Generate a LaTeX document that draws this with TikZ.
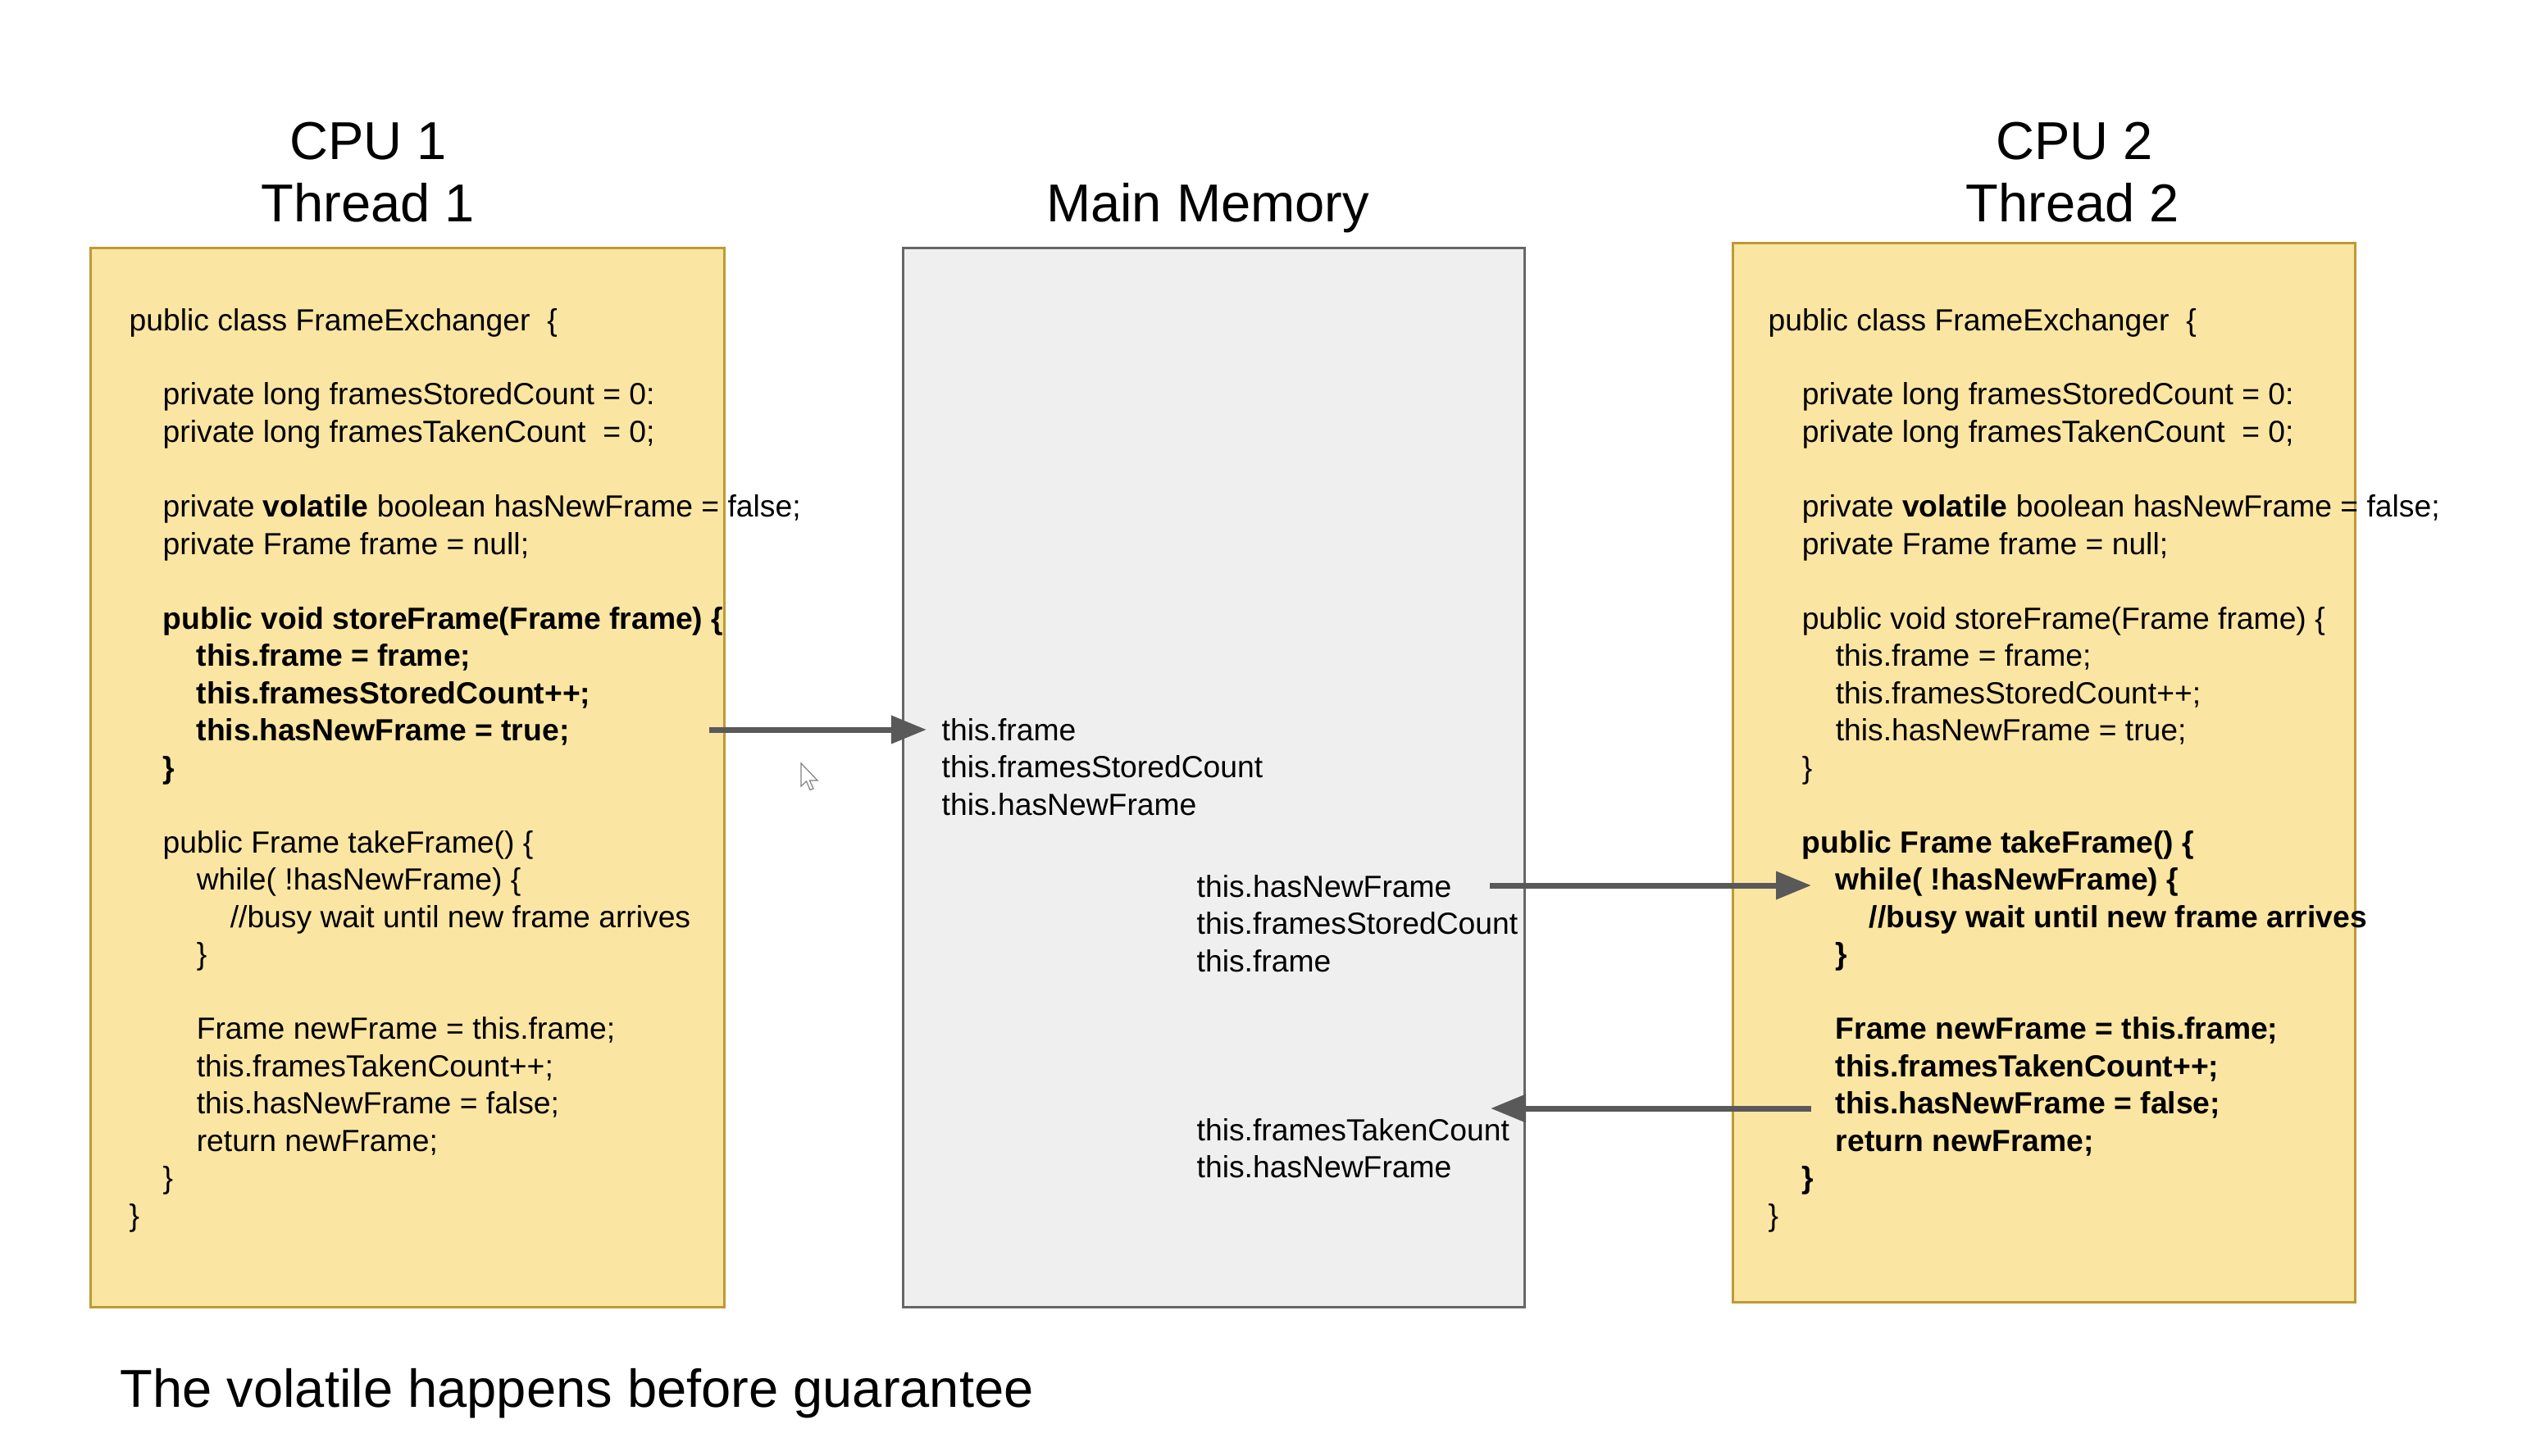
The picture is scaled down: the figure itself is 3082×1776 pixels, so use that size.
\documentclass[tikz,border=0pt]{standalone}
\usepackage{fontspec}
\setmainfont{Liberation Sans}
\usetikzlibrary{arrows.meta}
\definecolor{padfill}{HTML}{FBE5A2}
\definecolor{padline}{HTML}{BF9A33}
\definecolor{memfill}{HTML}{EFEFEF}
\definecolor{memline}{HTML}{666666}
\definecolor{flowgray}{HTML}{595959}
\newlength\indw
\setlength\indw{0.41cm}
\newcommand\codeind[1]{\hspace*{#1\indw}}
\newcommand\codesize{\fontsize{10.6}{12.9}\selectfont}
\newcommand\headsize{\fontsize{18.5}{22}\selectfont}
\tikzset{
  javaline/.style={anchor=base west, inner sep=0pt, font=\codesize}, % one line of source
  headline/.style={anchor=base, inner sep=0pt, font=\headsize},
  cpubox/.style={draw=padline, fill=padfill, line width=0.03cm},
  membox/.style={draw=memline, fill=memfill, line width=0.03cm},
  sync/.style={draw=flowgray, line width=0.07cm, -{Triangle[length=0.43cm,width=0.33cm]}},
}
\begin{document}
\begin{tikzpicture}[x=0.01cm,y=-0.01cm]
  \fill[white] (0,0) rectangle (3082,1776);
  \useasboundingbox (0,0) rectangle (3082,1776);

  % headings
  \node[headline] (cpuA) at (449,195) {CPU 1};
  \node[headline] (thrA) at (449,271) {Thread 1};
  \node[headline] (mem) at (1473,271) {Main Memory};
  \node[headline] (cpuB) at (2530,195) {CPU 2};
  \node[headline] (thrB) at (2528,271) {Thread 2};

  % boxes
  \draw[cpubox] (110,303) rectangle (883,1594);
  \draw[membox] (1101,303) rectangle (1859,1594);
  \draw[cpubox] (2113,297) rectangle (2872,1588);

  % thread 1 code
  \foreach \ln [count=\i from 0] in {
    {public class FrameExchanger~ \{},
    {},
    {\codeind{1}private long framesStoredCount = 0:},
    {\codeind{1}private long framesTakenCount~ = 0;},
    {},
    {\codeind{1}private \textbf{volatile} boolean hasNewFrame = false;},
    {\codeind{1}private Frame frame = null;},
    {},
    {\codeind{1}\textbf{public void storeFrame(Frame frame) \{}},
    {\codeind{2}\textbf{this.frame = frame;}},
    {\codeind{2}\textbf{this.framesStoredCount++;}},
    {\codeind{2}\textbf{this.hasNewFrame = true;}},
    {\codeind{1}\textbf{\}}},
    {},
    {\codeind{1}public Frame takeFrame() \{},
    {\codeind{2}while( !hasNewFrame) \{},
    {\codeind{3}//busy wait until new frame arrives},
    {\codeind{2}\}},
    {},
    {\codeind{2}Frame newFrame = this.frame;},
    {\codeind{2}this.framesTakenCount++;},
    {\codeind{2}this.hasNewFrame = false;},
    {\codeind{2}return newFrame;},
    {\codeind{1}\}},
    {\}}}
    \node[javaline] (la\i) at (157,{403+45.5*\i}) {\ln};

  % thread 2 code
  \foreach \ln [count=\i from 0] in {
    {public class FrameExchanger~ \{},
    {},
    {\codeind{1}private long framesStoredCount = 0:},
    {\codeind{1}private long framesTakenCount~ = 0;},
    {},
    {\codeind{1}private \textbf{volatile} boolean hasNewFrame = false;},
    {\codeind{1}private Frame frame = null;},
    {},
    {\codeind{1}public void storeFrame(Frame frame) \{},
    {\codeind{2}this.frame = frame;},
    {\codeind{2}this.framesStoredCount++;},
    {\codeind{2}this.hasNewFrame = true;},
    {\codeind{1}\}},
    {},
    {\codeind{1}\textbf{public Frame takeFrame() \{}},
    {\codeind{2}\textbf{while( !hasNewFrame) \{}},
    {\codeind{3}\textbf{//busy wait until new frame arrives}},
    {\codeind{2}\textbf{\}}},
    {},
    {\codeind{2}\textbf{Frame newFrame = this.frame;}},
    {\codeind{2}\textbf{this.framesTakenCount++;}},
    {\codeind{2}\textbf{this.hasNewFrame = false;}},
    {\codeind{2}\textbf{return newFrame;}},
    {\codeind{1}\textbf{\}}},
    {\}}}
    \node[javaline] (lb\i) at (2156,{403+45.5*\i}) {\ln};

  % fields in main memory
  \node[javaline] (wFrame) at (1148,903) {this.frame};
  \node[javaline] (wStored) at (1148,948) {this.framesStoredCount};
  \node[javaline] (wFlag) at (1148,994) {this.hasNewFrame};
  \node[javaline] (rFlag) at (1459,1094) {this.hasNewFrame};
  \node[javaline] (rStored) at (1459,1139) {this.framesStoredCount};
  \node[javaline] (rFrame) at (1459,1185) {this.frame};
  \node[javaline] (tTaken) at (1459,1391) {this.framesTakenCount};
  \node[javaline] (tFlag) at (1459,1436) {this.hasNewFrame};

  % flushes and reads
  \coordinate (s1) at (865,890);
  \coordinate (e1) at (1130,890);
  \coordinate (s2) at (1817,1080);
  \coordinate (e2) at (2209,1080);
  \coordinate (s3) at (2209,1352);
  \coordinate (e3) at (1818,1352);
  \draw[sync] (s1) -- (e1);
  \draw[sync] (s2) -- (e2);
  \draw[sync] (s3) -- (e3);

  % mouse pointer
  \draw[fill=white, draw=gray, line width=0.012cm] (977,931) -- ++(0,28) -- ++(6.5,-6) -- ++(4.5,10.5)
    -- ++(4,-1.5) -- ++(-4.5,-10) -- ++(9.5,0) -- cycle;

  \node[headline, anchor=base west] (note) at (146,1716) {The volatile happens before guarantee};
\end{tikzpicture}
\end{document}
